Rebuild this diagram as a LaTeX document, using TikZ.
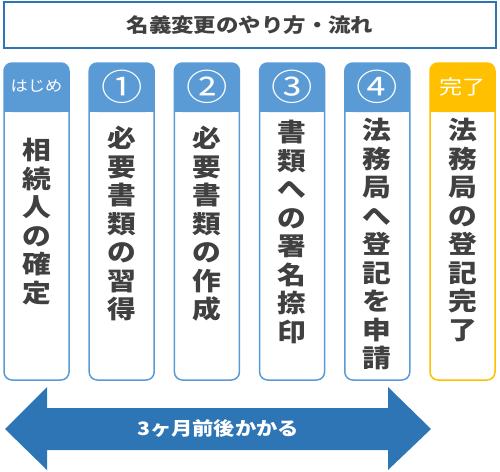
\documentclass[tikz,border=0pt]{standalone}
\usepackage{fontspec}
\setmainfont{Noto Sans CJK JP}[FakeStretch=1.15]
\usetikzlibrary{positioning}
\definecolor{headblue}{HTML}{5B9BD5}
\definecolor{darkblue}{HTML}{2E75B6}
\definecolor{doneorange}{HTML}{FFC000}
\definecolor{textgray}{HTML}{404040}
\tikzset{every picture/.style={line width=0.75pt}}
\tikzset{
  titlebox/.style={draw=darkblue, line width=1.5pt, fill=white, minimum width=492pt, minimum height=46pt,
    font=\bfseries\fontsize{19.5}{19.5}\selectfont, text=textgray},
  colbox/.style={draw=#1, line width=1.5pt, fill=white, rounded corners=8pt},
  headtext/.style={text=white, inner sep=0pt},
  steptext/.style={text=textgray, inner sep=0pt, align=center, anchor=north,
    font=\bfseries\fontsize{25}{28.5}\selectfont},
  spantext/.style={text=white, font=\bfseries\fontsize{18.5}{18.5}\selectfont}
}

\begin{document}
\begin{tikzpicture}[x=1pt, y=-1pt]
    \useasboundingbox (0,0) rectangle (500,471);

    % タイトル
    \node[titlebox] (title) at (250,25) {名義変更のやり方・流れ};

    % 各ステップ
    \foreach \i/\col/\head/\txt/\top in {
        0/headblue/{\fontsize{15}{15}\selectfont はじめ}/{相\\続\\人\\の\\確\\定}/138,
        1/headblue/{\fontsize{36}{36}\selectfont ①}/{必\\要\\書\\類\\の\\習\\得}/126,
        2/headblue/{\fontsize{36}{36}\selectfont ②}/{必\\要\\書\\類\\の\\作\\成}/126,
        3/headblue/{\fontsize{36}{36}\selectfont ③}/{書\\類\\へ\\の\\署\\名\\捺\\印}/120,
        4/headblue/{\fontsize{36}{36}\selectfont ④}/{法\\務\\局\\へ\\登\\記\\を\\申\\請}/118,
        5/doneorange/{\fontsize{20}{20}\selectfont 完了}/{法\\務\\局\\の\\登\\記\\完\\了}/118} {
        \pgfmathsetmacro{\xl}{4+85.2*\i}
        \draw[colbox=\col] (\xl,63) rectangle ++(65,317);
        \fill[\col, rounded corners=8pt] (\xl,63) rectangle ++(65,49);
        \fill[\col] (\xl,100) rectangle ++(65,12);
        \node[headtext] (head\i) at ({\xl+32.5},86.5) {\head};
        \node[steptext] (step\i) at ({\xl+32.5},\top) {\txt};
    }

    % 期間の矢印
    \fill[darkblue] (5,429) -- (47,387) -- (47,408) -- (388,408) -- (388,387) -- (431,429)
        -- (388,470) -- (388,450) -- (47,450) -- (47,470) -- cycle;
    \node[spantext] (span) at (218,429) {3ヶ月前後かかる};
\end{tikzpicture}
\end{document}
